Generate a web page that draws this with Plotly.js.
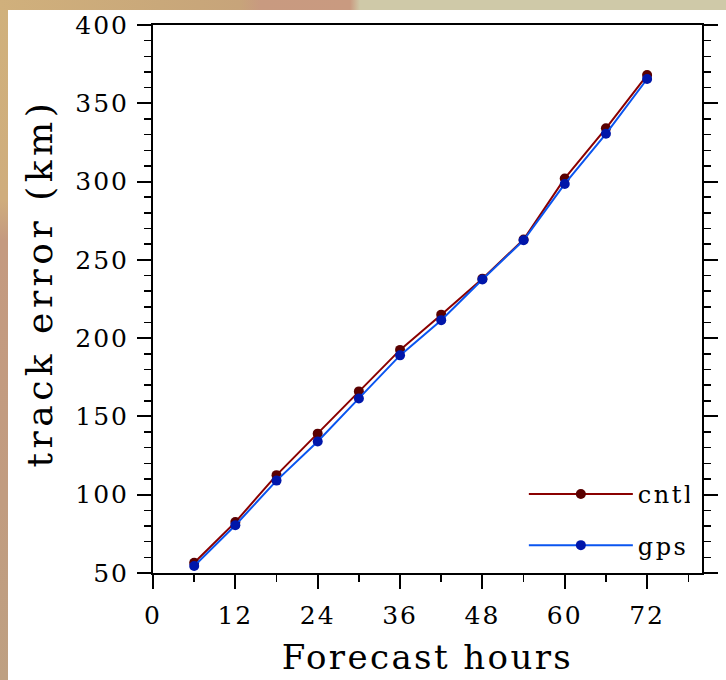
<!DOCTYPE html>
<html>
<head>
<meta charset="utf-8">
<script src="https://cdn.plot.ly/plotly-3.0.1.min.js"></script>
<style>
  html, body { margin: 0; padding: 0; width: 726px; height: 680px; overflow: hidden; }
  body {
    position: relative;
    background:
      linear-gradient(to right, #d0b07c 0px, #c9a87a 160px, #c7a47a 240px, #c89a80 260px, #c99a80 350px, #cfc9a8 360px, #cfc9a8 726px) top left / 726px 10px no-repeat,
      linear-gradient(to bottom, #d0b17c 0px, #cfad7d 200px, #c49a80 240px, #c19c80 500px, #bea082 680px);
  }
  #frame { position: absolute; left: 8px; top: 10px; right: 0; bottom: 0; background: #ffffff; }
  #chart { position: absolute; left: 0; top: 0; width: 726px; height: 680px; }
  #chart .xtick text, #chart .ytick text { letter-spacing: 2px; }
  #chart .g-xtitle text { letter-spacing: 2.4px; }
  #chart .annotation-text { letter-spacing: 4.5px; }
  #chart .legendtext { letter-spacing: 2.5px; }
</style>
</head>
<body>
<div id="frame"></div>
<div id="chart"></div>
<script>
// Forecast hours
const hours = [6, 12, 18, 24, 30, 36, 42, 48, 54, 60, 66, 72];
// Track error (km)
const cntl = [56.5, 82.5, 112.5, 139, 166, 192.5, 215, 238, 263, 302, 334, 368];
const gps  = [54.5, 80.5, 109, 134, 161.5, 189, 211.5, 237.5, 262.5, 298.5, 330.5, 365.5];
const seriesNames = ["cntl", "gps"];
const xTickVals = [0, 12, 24, 36, 48, 60, 72];
const yTickVals = [50, 100, 150, 200, 250, 300, 350, 400];

const serif = "DejaVu Serif, Liberation Serif, serif";

const traces = [
  {
    x: hours, y: cntl, name: seriesNames[0], type: "scatter", mode: "lines+markers",
    legendgroup: "a",
    line: { color: "#8a0000", width: 2 },
    marker: { color: "#5a0000", size: 10 }
  },
  {
    x: hours, y: gps, name: seriesNames[1], type: "scatter", mode: "lines+markers",
    legendgroup: "b",
    line: { color: "#0a55f0", width: 2 },
    marker: { color: "#0016aa", size: 10 }
  }
];

const layout = {
  width: 726, height: 680,
  paper_bgcolor: "rgba(0,0,0,0)",
  plot_bgcolor: "#ffffff",
  margin: { l: 153, r: 24, t: 25, b: 107 },
  font: { family: serif, color: "#000000" },
  showlegend: true,
  legend: {
    x: 0.6755, y: 0.097, xanchor: "left", yanchor: "middle",
    bgcolor: "rgba(0,0,0,0)", borderwidth: 0,
    font: { family: serif, size: 24, color: "#000000" },
    itemwidth: 104, tracegroupgap: 17,
    itemclick: false
  },
  xaxis: {
    range: [0, 80],
    tickmode: "array", tickvals: xTickVals, ticktext: xTickVals.map(String),
    ticks: "outside", ticklen: 14, tickwidth: 2, tickcolor: "#000",
    ticklabelstandoff: 5,
    showline: true, linecolor: "#000", linewidth: 2, mirror: true,
    showgrid: false, zeroline: false,
    tickfont: { family: serif, size: 25, color: "#000" },
    minor: { dtick: 6, tick0: 0, ticks: "outside", ticklen: 7, tickwidth: 1.5, tickcolor: "#000", showgrid: false },
    title: { text: "Forecast hours", font: { family: serif, size: 34, color: "#000" }, standoff: 16 }
  },
  yaxis: {
    range: [50, 400],
    tickmode: "array", tickvals: yTickVals, ticktext: yTickVals.map(String),
    ticks: "outside", ticklen: 14, tickwidth: 2, tickcolor: "#000",
    ticklabelstandoff: 3,
    showline: true, linecolor: "#000", linewidth: 2, mirror: "ticks",
    showgrid: false, zeroline: false,
    tickfont: { family: serif, size: 25, color: "#000" },
    minor: { dtick: 10, tick0: 0, ticks: "outside", ticklen: 7, tickwidth: 1.5, tickcolor: "#000", showgrid: false }
  },
  annotations: [
    {
      text: "track error (km)", xref: "paper", yref: "paper",
      x: -0.206, y: 0.53, xanchor: "center", yanchor: "middle",
      textangle: -90, showarrow: false,
      font: { family: serif, size: 36, color: "#000" }
    }
  ]
};

Plotly.newPlot("chart", traces, layout, { displayModeBar: false, staticPlot: true });
</script>
</body>
</html>
